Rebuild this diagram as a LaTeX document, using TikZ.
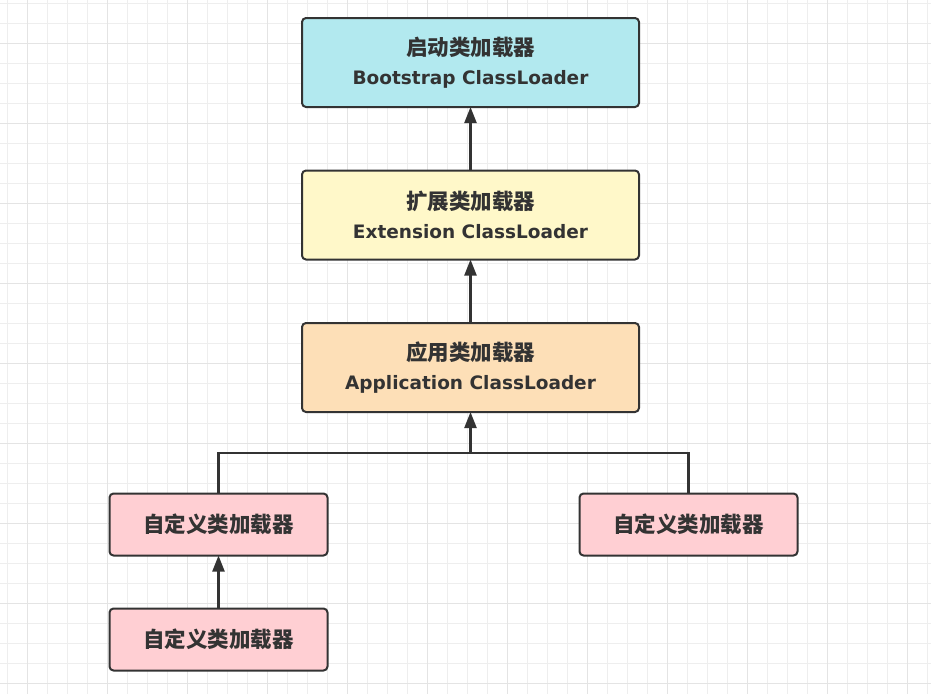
\documentclass[tikz,border=0pt]{standalone}
\usepackage{fontspec}
\setmainfont{DejaVu Sans}
\newfontfamily\cjk{Noto Sans CJK SC}
\usetikzlibrary{arrows.meta}
\definecolor{gridminor}{HTML}{EEEEEE}
\definecolor{gridmajor}{HTML}{E4E4E4}
\definecolor{ink}{HTML}{333333}
\definecolor{cyanfill}{HTML}{B2E9EF}
\definecolor{yellowfill}{HTML}{FFF8C9}
\definecolor{orangefill}{HTML}{FDDFB7}
\definecolor{pinkfill}{HTML}{FFCFD3}
\tikzset{
  loader/.style={draw=ink, line width=2pt, rounded corners=4pt, inner sep=0pt, outer sep=0pt,
    align=center, text=ink, font=\fontsize{18.5}{29}\selectfont\bfseries},
  bigbox/.style={loader, minimum width=337pt, minimum height=89pt},
  smallbox/.style={loader, minimum width=218pt, minimum height=62pt},
  link/.style={draw=ink, line width=2.2pt},
  uplink/.style={link, -{Triangle[length=16pt,width=12pt]}}
}
\newcommand{\zh}[1]{{\cjk\fontsize{21.5}{29}\selectfont\bfseries #1}}
\begin{document}
\begin{tikzpicture}[x=1pt,y=-1pt]
\useasboundingbox (0,0) rectangle (931,694);
\fill[white] (0,0) rectangle (931,694);
\foreach \gx in {7,27,...,927} \draw[gridminor, line width=1pt] (\gx,0) -- (\gx,694);
\foreach \gy in {3,23,...,693} \draw[gridminor, line width=1pt] (0,\gy) -- (931,\gy);
\foreach \gx in {27,107,...,927} \draw[gridmajor, line width=1pt] (\gx,0) -- (\gx,694);
\foreach \gy in {43,123,...,693} \draw[gridmajor, line width=1pt] (0,\gy) -- (931,\gy);

\node[bigbox, fill=cyanfill] (boot) at (470.5,62.5) {\zh{启动类加载器}\\Bootstrap ClassLoader};
\node[bigbox, fill=yellowfill] (ext) at (470.5,215) {\zh{扩展类加载器}\\Extension ClassLoader};
\node[bigbox, fill=orangefill] (app) at (470.5,367.5) {\zh{应用类加载器}\\Application ClassLoader};
\node[smallbox, fill=pinkfill] (cl) at (218.5,524.5) {\zh{自定义类加载器}};
\node[smallbox, fill=pinkfill] (cr) at (688.5,524.5) {\zh{自定义类加载器}};
\node[smallbox, fill=pinkfill] (cb) at (218.5,639.5) {\zh{自定义类加载器}};

\coordinate (jl) at (cl.north |- 0,453);
\coordinate (jr) at (cr.north |- 0,453);
\coordinate (jm) at (app.south |- 0,453);

\draw[uplink] (ext.north) -- (boot.south);
\draw[uplink] (app.north) -- (ext.south);
\draw[link, line join=miter] (cl.north) -- (jl) -- (jr) -- (cr.north);
\draw[uplink] (jm) -- (app.south);
\draw[uplink] (cb.north) -- (cl.south);
\end{tikzpicture}
\end{document}
